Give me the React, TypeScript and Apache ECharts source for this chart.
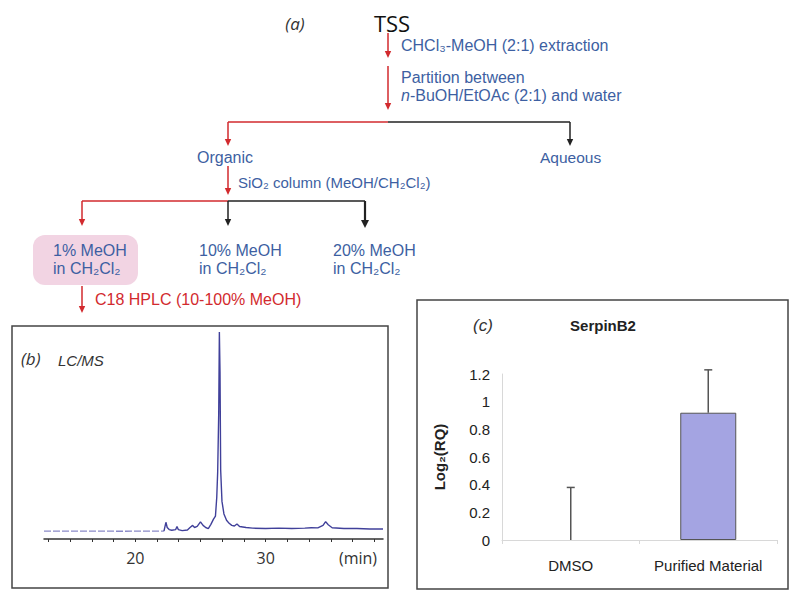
import React, { useEffect, useRef } from "react";
import * as echarts from "echarts";

// ---- Chromatogram (b) data: retention time (min) vs relative intensity ----
const leadTimes = [13.0, 16.0, 19.0, 22.2];
const leadIntensity = [3.8, 3.8, 3.7, 3.8];

const traceTimes = [
  22.2, 22.35, 22.45, 22.6, 22.8, 23.1, 23.2, 23.3, 23.6, 24.0, 24.2, 24.4, 24.55, 24.75,
  25.0, 25.2, 25.4, 25.6, 25.8, 26.0, 26.15, 26.25, 26.32, 26.4, 26.45, 26.5, 26.55, 26.65,
  26.8, 27.0, 27.2, 27.4, 27.6, 27.8, 28.0, 28.5, 29.0, 30.0, 31.0, 32.0, 33.0, 33.5, 34.0,
  34.4, 34.6, 34.8, 35.1, 36.0, 37.0, 38.0, 39.0,
];
const traceIntensity = [
  3.8, 8.0, 5.5, 4.5, 4.2, 4.5, 6.0, 4.5, 4.0, 4.3, 5.5, 6.5, 5.5, 6.0,
  8.2, 6.5, 5.5, 5.0, 7.0, 9.5, 11, 20, 32, 60, 99, 80, 33, 18,
  12, 9, 7.5, 6.5, 6.2, 7.2, 6.0, 5.5, 5.2, 5.0, 5.2, 5.0, 5.2, 5.4, 5.3,
  6.5, 8.3, 6.8, 5.4, 5.0, 5.0, 4.8, 4.8,
];
const timeTicks = [13.33, 15, 16.67, 18.33, 20, 21.67, 23.33, 25, 26.67, 28.33, 30, 31.67, 33.33, 35, 36.67, 38.33];
const timeLabels = [20, 30];

// ---- Bar chart (c) data ----
const categories = ["DMSO", "Purified Material"];
const meanValues = [0, 0.92];
const errorTops = [0.38, 1.23];

const BLUE = "#3d5fa2";
const RED = "#d22a2e";
const BLACK = "#222";
const FLOW_FONT = "Liberation Sans";
const HEAD_FONT = "Open Sans";
const ARIAL = "Liberation Sans";
const FS = 16;

function vline(x: number, y1: number, y2: number, color: string, w = 1.5) {
  return { type: "line", shape: { x1: x, y1, x2: x, y2 }, style: { stroke: color, lineWidth: w } };
}
function hline(x1: number, x2: number, y: number, color: string, w = 1.5) {
  return { type: "line", shape: { x1, y1: y, x2, y2: y }, style: { stroke: color, lineWidth: w } };
}
function head(x: number, yTip: number, color: string, hw = 3.2, h = 7) {
  return {
    type: "polygon",
    shape: { points: [[x - hw, yTip - h], [x + hw, yTip - h], [x, yTip]] },
    style: { fill: color },
  };
}
function ftext(x: number, y: number, text: string, color: string, size = FS) {
  return {
    type: "text",
    x,
    y,
    style: {
      text,
      fill: color,
      fontSize: size,
      fontFamily: FLOW_FONT,
      align: "left",
      verticalAlign: "middle",
      lineHeight: 18,
      rich: {
        i: { fontSize: size, fontStyle: "italic", fill: color, fontFamily: FLOW_FONT, lineHeight: 18 },
      },
    },
  };
}

export default function App() {
  const ref = useRef<HTMLDivElement>(null);
  useEffect(() => {
    if (!ref.current) return;
    const chart = echarts.init(ref.current, null, { renderer: "svg" });

    const leadData = leadTimes.map((t, i) => [t, leadIntensity[i]]);
    const traceData = traceTimes.map((t, i) => [t, traceIntensity[i]]);
    const errData = categories.map((_, i) => [i, meanValues[i], errorTops[i]]);
    const barData = meanValues.map((v) => (v === 0 ? { value: v, itemStyle: { borderWidth: 0 } } : v));

    const graphics: any[] = [
      // panel (a) flowchart
      { type: "text", x: 295, y: 23, style: { text: "(a)", fontSize: 17, fontStyle: "italic", fontFamily: HEAD_FONT, fill: "#333", align: "center", verticalAlign: "middle" } },
      { type: "text", x: 392, y: 23, style: { text: "TSS", fontSize: 22, fontFamily: HEAD_FONT, fill: "#111", align: "center", verticalAlign: "middle" } },
      vline(388, 33, 52, RED),
      head(388, 58, RED),
      ftext(401, 45, "CHCl₃-MeOH (2:1) extraction", BLUE),
      vline(388, 66, 104, RED),
      head(388, 110, RED),
      ftext(401, 86.5, "Partition between\n{i|n}-BuOH/EtOAc (2:1) and water", BLUE),
      hline(228, 388, 122, RED),
      hline(388, 570, 122, BLACK),
      vline(228, 122, 140, RED),
      head(228, 146, RED),
      vline(570, 122, 140, BLACK),
      head(570, 146, BLACK),
      ftext(197, 157, "Organic", BLUE),
      ftext(540, 157, "Aqueous", BLUE, 15.5),
      vline(228, 166, 189, RED),
      head(228, 195, RED),
      ftext(238, 182, "SiO₂ column (MeOH/CH₂Cl₂)", BLUE, 15),
      hline(82, 228, 201, RED),
      hline(228, 365, 201, BLACK),
      vline(82, 201, 220, RED),
      head(82, 226, RED),
      vline(228, 201, 220, BLACK),
      head(228, 226, BLACK),
      vline(365, 201, 220, BLACK, 2.2),
      head(365, 228, BLACK, 4, 8),
      { type: "rect", shape: { x: 33, y: 235, width: 105, height: 50, r: 12 }, style: { fill: "#f2d4e3" } },
      ftext(53, 259.5, "1% MeOH\nin CH₂Cl₂", BLUE),
      ftext(199, 259.5, "10% MeOH\nin CH₂Cl₂", BLUE),
      ftext(333, 259.5, "20% MeOH\nin CH₂Cl₂", BLUE),
      vline(82, 286, 306, RED),
      head(82, 313, RED),
      ftext(95, 299, "C18 HPLC (10-100% MeOH)", RED),

      // panel (b)
      { type: "rect", shape: { x: 12, y: 326, width: 376, height: 262 }, style: { fill: "none", stroke: "#444", lineWidth: 1.5 } },
      { type: "text", x: 21, y: 358, style: { text: "(b)", fontSize: 17, fontStyle: "italic", fontFamily: HEAD_FONT, fill: "#333", align: "left", verticalAlign: "middle" } },
      { type: "text", x: 58, y: 360, style: { text: "LC/MS", fontSize: 15, fontStyle: "italic", fontFamily: ARIAL, fill: "#333", align: "left", verticalAlign: "middle" } },
      { type: "text", x: 358, y: 558, style: { text: "(min)", fontSize: 16, fontFamily: HEAD_FONT, fill: "#333", align: "center", verticalAlign: "middle" } },

      // panel (c)
      { type: "rect", shape: { x: 417, y: 300, width: 371, height: 289 }, style: { fill: "none", stroke: "#444", lineWidth: 1.5 } },
      { type: "text", x: 483, y: 325, style: { text: "(c)", fontSize: 17, fontStyle: "italic", fontFamily: ARIAL, fill: "#333", align: "center", verticalAlign: "middle" } },
      { type: "text", x: 603, y: 325, style: { text: "SerpinB2", fontSize: 15, fontWeight: "bold", fontFamily: ARIAL, fill: "#222", align: "center", verticalAlign: "middle" } },
    ];

    chart.setOption({
      animation: false,
      backgroundColor: "#fff",
      grid: [
        { left: 44, right: 417, top: 330, bottom: 63 },
        { left: 502, right: 23, top: 374, bottom: 62 },
      ],
      xAxis: [
        {
          type: "value",
          gridIndex: 0,
          min: 13,
          max: 39,
          axisLine: { show: true, onZero: false, lineStyle: { color: "#333", width: 1.5 } },
          axisTick: { show: true, customValues: timeTicks, length: 3, lineStyle: { color: "#333" } },
          axisLabel: { customValues: timeLabels, fontSize: 16, fontFamily: HEAD_FONT, color: "#333", margin: 11 },
          splitLine: { show: false },
        },
        {
          type: "category",
          gridIndex: 1,
          data: categories,
          axisLine: { lineStyle: { color: "#d8d8d8" } },
          axisTick: { show: true, length: 4, lineStyle: { color: "#d8d8d8" } },
          axisLabel: { interval: 0, fontSize: 15, fontFamily: ARIAL, color: "#222", margin: 18 },
        },
      ],
      yAxis: [
        { type: "value", gridIndex: 0, min: 0, max: 100, show: false },
        {
          type: "value",
          gridIndex: 1,
          min: 0,
          max: 1.2,
          interval: 0.2,
          axisLine: { show: true, lineStyle: { color: "#d8d8d8" } },
          axisTick: { show: false },
          splitLine: { show: false },
          axisLabel: { fontSize: 15, fontFamily: ARIAL, color: "#222", margin: 12 },
          name: "Log₂(RQ)",
          nameLocation: "middle",
          nameRotate: 90,
          nameGap: 55,
          nameTextStyle: {
            fontSize: 15,
            fontWeight: "bold",
            fontFamily: ARIAL,
            color: "#222",
          },
        },
      ],
      series: [
        {
          type: "line",
          xAxisIndex: 0,
          yAxisIndex: 0,
          data: leadData,
          symbol: "none",
          lineStyle: { color: "#8a8ac8", width: 1.3, type: [7, 2] },
        },
        {
          type: "line",
          xAxisIndex: 0,
          yAxisIndex: 0,
          data: traceData,
          symbol: "none",
          lineStyle: { color: "#40409a", width: 1.4 },
        },
        {
          type: "bar",
          xAxisIndex: 1,
          yAxisIndex: 1,
          data: barData,
          barWidth: 56,
          itemStyle: { color: "#a4a4e2", borderColor: "#555", borderWidth: 1 },
        },
        {
          type: "custom",
          xAxisIndex: 1,
          yAxisIndex: 1,
          data: errData,
          clip: false,
          z: 5,
          encode: { x: 0, y: [1, 2] },
          renderItem: (_params: any, api: any) => {
            const idx = api.value(0);
            const lo = api.coord([idx, api.value(1)]);
            const hi = api.coord([idx, api.value(2)]);
            return {
              type: "group",
              children: [
                { type: "line", shape: { x1: lo[0], y1: lo[1], x2: hi[0], y2: hi[1] }, style: { stroke: "#555", lineWidth: 1.5 } },
                { type: "line", shape: { x1: hi[0] - 4, y1: hi[1], x2: hi[0] + 4, y2: hi[1] }, style: { stroke: "#555", lineWidth: 1.5 } },
              ],
            };
          },
        },
      ],
      graphic: { elements: graphics },
    });
    return () => chart.dispose();
  }, []);
  return (
    <div
      ref={ref}
      style={{ position: "absolute", left: 0, top: 0, width: 800, height: 602 }}
    />
  );
}
